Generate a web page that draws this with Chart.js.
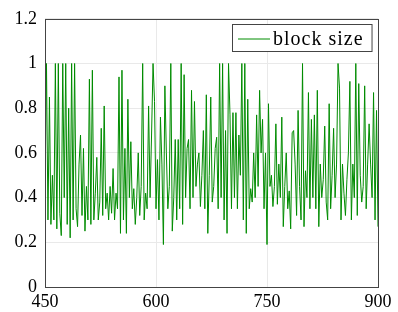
<!DOCTYPE html>
<html>
<head>
<meta charset="utf-8">
<script src="https://cdn.jsdelivr.net/npm/chart.js@4"></script>
<style>
  html, body { margin: 0; padding: 0; background: #fff; }
  #wrap { width: 398px; height: 312px; }
</style>
</head>
<body>
<div id="wrap"><canvas id="blockGraf"></canvas></div>
<script>
// x runs 450..900 in steps of 2
const xStart = 450;
const xStep = 2;
const seriesLabel = 'block size';
const xTicks = [450, 600, 750, 900];
const yTicks = [0, 0.2, 0.4, 0.6, 0.8, 1, 1.2];

const blockSize = [
  0.42, 1.0, 0.3, 0.85, 0.28, 0.5, 0.3, 1.0, 0.26, 1.0,     // 450
  0.33, 0.23, 1.0, 0.4, 1.0, 0.28, 0.8, 0.22, 1.0, 0.3,     // 470
  1.0, 0.35, 0.27, 0.55, 0.68, 0.32, 0.62, 0.25, 0.45, 0.3, // 490
  0.93, 0.28, 0.97, 0.3, 0.42, 0.58, 0.3, 0.38, 0.71, 0.32, // 510
  0.81, 0.35, 0.42, 0.3, 0.45, 0.33, 0.53, 0.3, 0.42, 0.35, // 530
  0.94, 0.24, 0.97, 0.3, 0.62, 0.24, 0.84, 0.4, 0.65, 0.35, // 550
  0.44, 0.28, 0.4, 0.6, 0.32, 0.45, 1.0, 0.3, 0.42, 0.35,   // 570
  0.81, 0.4, 0.68, 1.0, 0.83, 0.35, 0.57, 0.3, 0.76, 0.55,  // 590
  0.19, 0.9, 0.6, 0.35, 0.45, 1.0, 0.25, 0.4, 0.66, 0.3,    // 610
  0.66, 0.35, 1.0, 0.28, 0.95, 0.4, 0.62, 0.66, 0.35, 0.88, // 630
  0.4, 0.83, 0.45, 0.55, 0.6, 0.36, 0.5, 0.7, 0.35, 0.86,   // 650
  0.24, 0.5, 0.85, 0.38, 0.45, 0.62, 0.67, 0.35, 1.0, 0.4,  // 670
  1.0, 0.3, 0.7, 0.24, 1.0, 0.77, 0.35, 0.78, 0.4, 0.78,    // 690
  0.35, 0.68, 0.5, 1.0, 0.3, 1.0, 0.24, 0.84, 0.35, 0.44,   // 710
  0.38, 0.6, 0.4, 0.77, 0.45, 0.88, 0.6, 0.75, 0.35, 0.6,   // 730
  0.19, 0.82, 0.45, 0.5, 0.36, 0.45, 0.73, 0.37, 0.55, 0.4, // 750
  0.76, 0.27, 0.45, 0.6, 0.35, 0.43, 0.26, 0.69, 0.7, 0.55, // 770
  0.32, 0.79, 0.45, 0.3, 1.0, 0.27, 0.52, 0.4, 0.87, 0.35,  // 790
  0.75, 0.4, 0.77, 0.35, 0.88, 0.27, 0.55, 0.4, 0.48, 0.72, // 810
  0.38, 0.3, 0.82, 0.35, 0.5, 0.71, 0.4, 0.55, 1.0, 0.89,   // 830
  0.3, 0.55, 0.42, 0.32, 0.48, 0.6, 0.92, 0.3, 0.55, 0.4,   // 850
  1.0, 0.32, 0.91, 0.5, 0.38, 0.45, 0.9, 0.35, 0.55, 0.73,  // 870
  0.55, 0.4, 0.87, 0.3, 0.79, 0.27                          // 890
];

const points = blockSize.map((v, i) => ({ x: xStart + i * xStep, y: v }));

const serif = '"Liberation Serif", "DejaVu Serif", serif';
const lineColor = 'rgb(0, 140, 0)';

// box around the plot + legend inside top right
const frameAndLegend = {
  id: 'frameAndLegend',
  afterDatasetsDraw(chart) {
    const { ctx, chartArea: a } = chart;
    ctx.save();
    ctx.strokeStyle = '#444';
    ctx.lineWidth = 1;
    ctx.strokeRect(Math.round(a.left) + 0.5, Math.round(a.top) + 0.5,
                   Math.round(a.right - a.left), Math.round(a.bottom - a.top));

    ctx.font = '20px ' + serif;
    ctx.letterSpacing = '1px';
    const label = chart.data.datasets[0].label;
    const tw = ctx.measureText(label).width;
    const w = 6 + 32 + 3 + tw + 8;
    const h = 27;
    const x = Math.round(a.right - 6 - w);
    const y = Math.round(a.top + 5);
    ctx.fillStyle = '#fff';
    ctx.fillRect(x, y, w, h);
    ctx.strokeStyle = '#444';
    ctx.strokeRect(x + 0.5, y + 0.5, w, h);
    ctx.strokeStyle = lineColor;
    ctx.beginPath();
    ctx.moveTo(x + 6, y + 15);
    ctx.lineTo(x + 38, y + 15);
    ctx.stroke();
    ctx.fillStyle = '#000';
    ctx.textBaseline = 'alphabetic';
    ctx.fillText(label, x + 41, y + 21);
    ctx.restore();
  }
};

new Chart(document.getElementById('blockGraf'), {
  type: 'line',
  data: {
    datasets: [{
      label: seriesLabel,
      data: points,
      borderColor: lineColor,
      borderWidth: 1,
      pointRadius: 0,
      tension: 0,
      fill: false
    }]
  },
  options: {
    responsive: true,
    maintainAspectRatio: false,
    animation: false,
    devicePixelRatio: 1,
    layout: { padding: { top: 13, right: 20, left: 0, bottom: 0 } },
    plugins: { legend: { display: false }, tooltip: { enabled: false } },
    scales: {
      x: {
        type: 'linear',
        min: 450,
        max: 900,
        afterBuildTicks: s => { s.ticks = xTicks.map(v => ({ value: v })); },
        afterFit: s => { s.height = 25; },
        grid: { color: '#e9e9e9', drawTicks: false },
        border: { display: false },
        ticks: { color: '#000', font: { family: serif, size: 18 }, padding: 4, maxRotation: 0,
                 callback: v => String(v) }
      },
      y: {
        min: 0,
        max: 1.2,
        afterBuildTicks: s => { s.ticks = yTicks.map(v => ({ value: v })); },
        afterFit: s => { s.width = 45; },
        grid: { color: '#e9e9e9', drawTicks: false },
        border: { display: false },
        ticks: { color: '#000', font: { family: serif, size: 18 }, padding: 8,
                 callback: v => String(v) }
      }
    }
  },
  plugins: [frameAndLegend]
});
</script>
</body>
</html>
